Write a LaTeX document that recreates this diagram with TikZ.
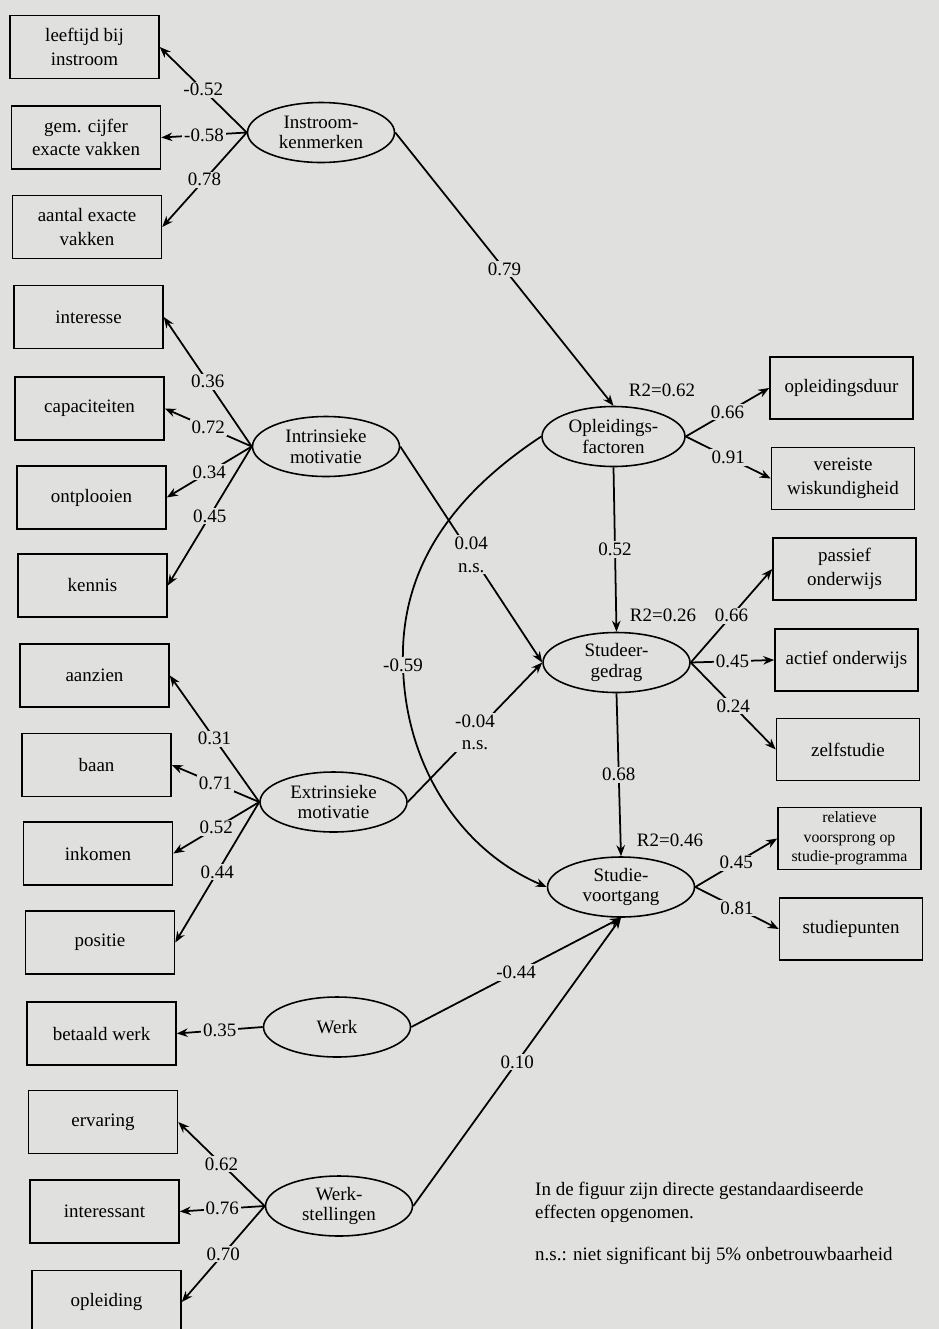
\documentclass[tikz,border=0pt]{standalone}
\usepackage{fontspec}
\setmainfont{Liberation Serif}
\usepackage{xcolor}
\usepackage{tikz}
\usetikzlibrary{arrows.meta,shapes.geometric}
\definecolor{paper}{RGB}{224,224,222}
\tikzset{
  >={Stealth[length=2.2mm,width=1.7mm]},
  obs/.style={draw, line width=0.9pt, align=center, minimum width=2.98cm, minimum height=1.26cm, inner sep=1pt, font=\fontsize{10.8}{13.5}\selectfont},
  obsr/.style={obs, minimum width=2.86cm, minimum height=1.24cm},
  latent/.style={ellipse, draw, line width=0.9pt, align=center, minimum width=2.94cm, minimum height=1.2cm, inner sep=0pt, font=\fontsize{10.8}{11.8}\selectfont},
  coef/.style={fill=paper, inner sep=1pt, align=center, font=\fontsize{10.8}{13}\selectfont},
  path/.style={line width=1pt},
}
\begin{document}
\begin{tikzpicture}[x=0.02cm, y=-0.02cm, font=\fontsize{10.8}{13}\selectfont]
  \useasboundingbox (0,0) rectangle (939,1329);
  \clip (0,0) rectangle (939,1329);
  \fill[paper] (0,0) rectangle (939,1329);

  % indicators on the left
  \node[obs] (leeftijd) at (84.5,47) {leeftijd bij\\instroom};
  \node[obs] (gemcijfer) at (86,137.5) {gem. cijfer\\exacte vakken};
  \node[obs] (aantal) at (87,227) {aantal exacte\\vakken};
  \node[obs] (interesse) at (88.5,317) {interesse};
  \node[obs] (capac) at (89.5,408.5) {capaciteiten};
  \node[obs] (ontpl) at (91.5,497.5) {ontplooien};
  \node[obs] (kennis) at (92.5,585.5) {kennis};
  \node[obs] (aanzien) at (94.5,675.5) {aanzien};
  \node[obs] (baan) at (96.5,765) {baan};
  \node[obs] (inkomen) at (98,853.5) {inkomen};
  \node[obs] (positie) at (100,942.5) {positie};
  \node[obs] (betaald) at (101.5,1033.5) {betaald werk};
  \node[obs] (ervaring) at (103,1122) {ervaring};
  \node[obs] (interessant) at (104.5,1211.5) {interessant};
  \node[obs] (opleiding) at (106.5,1302) {opleiding};

  % latent variables
  \node[latent] (instroom) at (321,132.5) {Instroom-\\kenmerken};
  \node[latent] (intrins) at (326,446.5) {Intrinsieke\\motivatie};
  \node[latent] (extrins) at (333.5,802) {Extrinsieke\\motivatie};
  \node[latent] (werk) at (337,1027) {Werk};
  \node[latent] (wstell) at (339,1206) {Werk-\\stellingen};
  \node[latent, minimum width=2.86cm] (ofac) at (613.5,436.5) {Opleidings-\\factoren};
  \node[latent] (sgedrag) at (616.5,662.5) {Studeer-\\gedrag};
  \node[latent] (svoort) at (621,887) {Studie-\\voortgang};

  % indicators on the right
  \node[obsr] (duur) at (841.5,388) {opleidingsduur};
  \node[obsr] (wisk) at (843,478.5) {vereiste\\wiskundigheid};
  \node[obsr] (passief) at (844.5,569) {passief\\onderwijs};
  \node[obsr] (actief) at (846.5,660) {actief onderwijs};
  \node[obsr] (zelf) at (848,749.5) {zelfstudie};
  \node[obsr, font=\fontsize{9}{11}\selectfont] (voorsprong) at (849.5,838.5) {relatieve\\voorsprong op\\studie-programma};
  \node[obsr] (punten) at (851,929) {studiepunten};

  \node (r2ofac) at (662,390) {R2=0.62};
  \node (r2sged) at (663,615) {R2=0.26};
  \node (r2svoort) at (670,840) {R2=0.46};

  \node[anchor=north west, align=left] (note) at (529,1176) {In de figuur zijn directe gestandaardiseerde\\effecten opgenomen.};
  \node[anchor=west] (nsnote) at (529,1256) {n.s.: niet significant bij 5\% onbetrouwbaarheid};

  % loadings
  \draw[path, ->] (instroom.west) -- node[coef] {-0.52} (leeftijd.east);
  \draw[path, ->] (instroom.west) -- node[coef] {-0.58} (gemcijfer.east);
  \draw[path, ->] (instroom.west) -- node[coef] {0.78} (aantal.east);
  \draw[path, ->] (intrins.west) -- node[coef] {0.36} (interesse.east);
  \draw[path, ->] (intrins.west) -- node[coef] {0.72} (capac.east);
  \draw[path, ->] (intrins.west) -- node[coef] {0.34} (ontpl.east);
  \draw[path, ->] (intrins.west) -- node[coef] {0.45} (kennis.east);
  \draw[path, ->] (extrins.west) -- node[coef] {0.31} (aanzien.east);
  \draw[path, ->] (extrins.west) -- node[coef] {0.71} (baan.east);
  \draw[path, ->] (extrins.west) -- node[coef] {0.52} (inkomen.east);
  \draw[path, ->] (extrins.west) -- node[coef] {0.44} (positie.east);
  \draw[path, ->] (werk.west) -- node[coef] {0.35} (betaald.east);
  \draw[path, ->] (wstell.west) -- node[coef] {0.62} (ervaring.east);
  \draw[path, ->] (wstell.west) -- node[coef] {0.76} (interessant.east);
  \draw[path, ->] (wstell.west) -- node[coef] {0.70} (opleiding.east);

  \draw[path, ->] (ofac.east) -- node[coef] {0.66} (duur.west);
  \draw[path, ->] (ofac.east) -- node[coef] {0.91} (wisk.west);
  \draw[path, ->] (sgedrag.east) -- node[coef] {0.66} (passief.west);
  \draw[path, ->] (sgedrag.east) -- node[coef] {0.45} (actief.west);
  \draw[path, ->] (sgedrag.east) -- node[coef] {0.24} (zelf.west);
  \draw[path, ->] (svoort.east) -- node[coef] {0.45} (voorsprong.west);
  \draw[path, ->] (svoort.east) -- node[coef] {0.81} (punten.west);

  % structural paths
  \draw[path, ->] (instroom.east) -- node[coef] {0.79} (ofac.north);
  \draw[path, ->] (intrins.east) -- node[coef] {0.04\\n.s.} (sgedrag.west);
  \draw[path, ->] (extrins.east) -- node[coef] {-0.04\\n.s.} (sgedrag.west);
  \draw[path, ->] (ofac.south) -- node[coef] {0.52} (sgedrag.north);
  \draw[path, ->] (sgedrag.south) -- node[coef] {0.68} (svoort.north);
  \draw[path, ->] (werk.east) -- node[coef] {-0.44} (svoort.south);
  \draw[path, ->] (wstell.east) -- node[coef] {0.10} (svoort.south);
  \draw[path, ->] (ofac.west) .. controls (445,500) and (400,575) .. (403,665) node[coef] {-0.59}
    .. controls (405,765) and (460,850) .. (svoort.west);
\end{tikzpicture}
\end{document}
